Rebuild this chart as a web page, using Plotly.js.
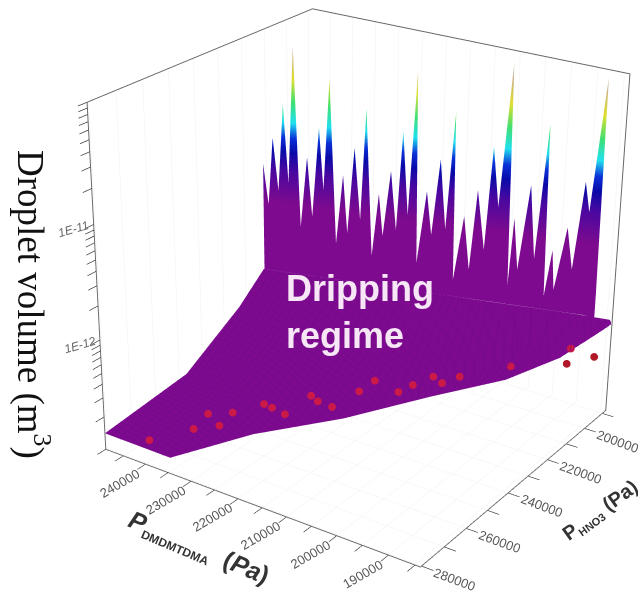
<!DOCTYPE html>
<html><head><meta charset="utf-8">
<script src="https://cdn.plot.ly/plotly-3.0.1.min.js"></script>
<style>html,body{margin:0;padding:0;background:#fff}</style>
</head><body><div id="chart" style="width:638px;height:600px"></div>
<script>
// Ridge of spikes along the dripping-regime limit
const ridgeX=[247694,246746,245855,244851,243904,242957,242019,240705,239486,238548,237282,236456,235387,234093,232845,232020,230781,229656,228708,227461,226279,225510,224150,223090,222086,221017,219713,219244,217649,216702,215342,214216,212912,212565,210905,209780,208654,207238,206178,204996,203335,202801,202097,201206,199490,198364,196769,196357,195231,194706,192867,191742,190269,189378,187427,187146];
const ridgeY=[213897,213503,213128,212715,212312,211918,211514,210970,210454,210051,209535,209188,208738,208194,207669,207322,206806,206337,205933,205417,204920,204592,204029,203579,203157,202707,202163,201966,201290,200896,200333,199855,199311,199161,198467,197998,197519,196929,196478,195981,195287,195062,194771,194396,193674,193205,192539,192360,191891,191666,190897,190428,189809,189434,189190,189190];
const ridgeExp=[-11.16,-11.53,-10.91,-11.39,-10.6,-11.31,-10.08,-11.7,-11.05,-11.59,-10.77,-11.33,-10.33,-11.81,-11.17,-11.7,-10.91,-11.56,-10.55,-11.88,-11.3,-11.68,-11.08,-11.61,-10.71,-11.46,-10.18,-11.89,-11.22,-11.61,-10.92,-11.54,-10.49,-12.0,-11.4,-11.88,-11.15,-11.68,-10.75,-11.28,-10.02,-11.98,-11.36,-11.82,-11.05,-11.7,-10.5,-12.03,-11.6,-11.96,-11.38,-11.75,-10.96,-11.22,-10.05,-11.92];
const ridgeBaseExp=-12.15;
// Main sheet (rows run from the lower edge up to the ridge base)
const sheetX=[
 [249000,236000,229500,219750,211300,203500,194080,184200],
 [249000,236000,228850,217800,208050,199600,191800,184200],
 [248400,236000,227550,215850,204800,195700,189850,184300],
 [247800,236100,227200,215366,203420,194700,190616,184500]];
const sheetY=[
 [280500,277720,255520,235175,211500,191700,188000,188000],
 [246830,254600,238900,223150,205600,191200,188190,188000],
 [224260,229600,220400,211100,200000,190780,188460,188000],
 [213980,209064,205326,200352,195437,191704,190064,188000]];
const sheetExp=[
 [-12.85,-12.92,-12.93,-12.93,-12.93,-12.93,-12.64,-12.19],
 [-12.76,-12.8,-12.82,-12.82,-12.8,-12.7,-12.5,-12.17],
 [-12.4,-12.55,-12.6,-12.6,-12.55,-12.45,-12.3,-12.16],
 [-12.15,-12.15,-12.15,-12.15,-12.15,-12.15,-12.15,-12.15]];
// Measured droplets
const dropX=[238900,233700,235000,230800,231750,229150,227200,223950,224150,222000,218750,218100,218100,212250,211600,210300,207700,206400,200900,191500];
const dropY=[280500,272200,263850,267100,259700,251400,251800,252750,240700,242200,242600,231500,224100,225900,220400,213300,215100,209300,196300,188900];
const dropExp=[-12.76,-12.7,-12.7,-12.7,-12.7,-12.7,-12.7,-12.7,-12.7,-12.7,-12.7,-12.7,-12.7,-12.7,-12.7,-12.7,-12.7,-12.7,-12.7,-12.5];
const lowDropX=[192450,187050];
const lowDropY=[188000,188000];
const lowDropExp=[-12.67,-12.53];
// Axes
const xRange=[184000,249000], yRange=[188000,280500], zRange=[-13,-10];
const xTickVals=[190000,200000,210000,220000,230000,240000];
const yTickVals=[200000,220000,240000,260000,280000];
const xMinorVals=[185000,195000,205000,215000,225000,235000,245000];
const yMinorVals=[190000,210000,230000,250000,270000];
const zMajor=[-13,-12,-11,-10];
const zLabels=[['1E-11',-11],['1E-12',-12]];
const zMinorMult=[2,3,4,5,6,7,8,9];

const pow=a=>a.map(r=>Array.isArray(r)?pow(r):Math.pow(10,r));
const colorscale=[[0,'#7d0a8f'],[0.5,'#7d0a8f'],[0.6,'#4a08a0'],[0.66,'#0a0aa8'],[0.7,'#0a30d8'],[0.75,'#20e0f0'],[0.81,'#40e070'],[0.88,'#e0e030'],[0.95,'#c8b080'],[1,'#c8c8c8']];
const flat={ambient:1,diffuse:0,specular:0,roughness:1,fresnel:0};
const ridgeBase=ridgeExp.map(()=>ridgeBaseExp);
const sheet={type:'surface',x:sheetX,y:sheetY,z:pow(sheetExp),surfacecolor:sheetExp,cmin:-13,cmax:-10,cauto:false,
  colorscale,showscale:false,lighting:flat,hoverinfo:'skip',
  contours:{x:{show:true,start:184000,end:249000,size:1300,color:'#720a88',width:1,highlight:false},
            y:{show:true,start:188000,end:280500,size:1800,color:'#720a88',width:1,highlight:false},
            z:{highlight:false}}};
const ridge={type:'surface',x:[ridgeX,ridgeX],y:[ridgeY,ridgeY],z:[pow(ridgeBase),pow(ridgeExp)],surfacecolor:[ridgeBase,ridgeExp],
  cmin:-13,cmax:-10,cauto:false,colorscale,showscale:false,lighting:flat,hoverinfo:'skip',
  contours:{x:{highlight:false},y:{highlight:false},z:{highlight:false}}};
const drops={type:'scatter3d',mode:'markers',x:dropX,y:dropY,z:pow(dropExp),marker:{size:4.5,color:'#cc1a48',line:{width:0}},hoverinfo:'skip'};
const lowDrops={type:'scatter3d',mode:'markers',x:lowDropX,y:lowDropY,z:pow(lowDropExp),marker:{size:4.5,color:'#b01828',line:{width:0}},hoverinfo:'skip'};

const zTicks=[];
zMajor.forEach(e=>{zTicks.push(Math.pow(10,e)); if(e<-10) zMinorMult.forEach(m=>zTicks.push(m*Math.pow(10,e)));});
const axisBase={showbackground:false,showline:true,mirror:true,linecolor:'#666',linewidth:2,gridcolor:'#f1f1f1',gridwidth:1,
  showticklabels:false,ticks:'outside',ticklen:4,tickcolor:'#333',tickwidth:1.5,zeroline:false,showspikes:false,title:{text:''}};
const labFont={family:'Liberation Sans, Arial, sans-serif',size:13,color:'#555'};
const ann3d=[];
xTickVals.forEach(v=>ann3d.push({x:v,y:yRange[1],z:zRange[0],text:String(v),showarrow:false,textangle:-30,font:labFont,xshift:-26,yshift:-19}));
yTickVals.forEach(v=>ann3d.push({x:xRange[0],y:v,z:zRange[0],text:String(v),showarrow:false,textangle:20,font:labFont,xshift:33,yshift:-13}));
zLabels.forEach(l=>ann3d.push({x:xRange[1],y:yRange[1],z:l[1],text:'<i>'+l[0]+'</i>',showarrow:false,textangle:-16,
  font:{family:'Liberation Sans, Arial, sans-serif',size:12,color:'#666'},xshift:-20,yshift:-5}));

const px=(x,y)=>({xref:'paper',yref:'paper',x:x/638,y:1-y/600,xanchor:'center',yanchor:'middle',showarrow:false});
const layout={width:638,height:600,margin:{l:0,r:0,t:0,b:0},paper_bgcolor:'#fff',showlegend:false,
 scene:{domain:{x:[0,1],y:[0,1]},
  camera:{eye:{x:-2.577,y:3.875,z:2.10},center:{x:0.093,y:0.065,z:-0.10},up:{x:0,y:0,z:1}},
  aspectmode:'manual',aspectratio:{x:1,y:0.967,z:0.985},
  xaxis:Object.assign({},axisBase,{range:xRange,tickmode:'array',tickvals:xTickVals.concat(xMinorVals)}),
  yaxis:Object.assign({},axisBase,{range:yRange,tickmode:'array',tickvals:yTickVals.concat(yMinorVals)}),
  zaxis:Object.assign({},axisBase,{type:'log',range:zRange,tickmode:'array',tickvals:zTicks,showgrid:false,ticklen:3}),
  annotations:ann3d},
 annotations:[
  Object.assign(px(33,304),{text:'Droplet volume (m<sup>3</sup>)',textangle:90,font:{family:'Liberation Serif, serif',size:37,color:'#111'}}),
  Object.assign(px(360,312),{text:'Dripping<br>regime',align:'left',font:{family:'Liberation Sans, Arial, sans-serif',size:36,color:'#f6e6f6',weight:'bold'}}),
  Object.assign(px(199,548),{text:'<b><i>P</i></b><sub><span style="font-size:12px"><b>DMDMTDMA</b></span></sub><b>&nbsp;&nbsp;(<i>Pa</i>)</b>',textangle:23,font:{family:'Liberation Sans, Arial, sans-serif',size:25,color:'#333'}}),
  Object.assign(px(600,511),{text:'<b>P</b><sub><span style="font-size:11px"><b>HNO3</b></span></sub><b> (Pa)</b>',textangle:-36,font:{family:'Liberation Sans, Arial, sans-serif',size:20,color:'#333'}})
 ]};
Plotly.newPlot('chart',[sheet,ridge,drops,lowDrops],layout,{displayModeBar:false}).then(gd=>{
  // narrower field of view, so that the box keeps the reference's mild perspective
  const gl=gd._fullLayout.scene._scene.glplot;
  gl.fovy=0.307; gl.redraw&&gl.redraw();
});
</script></body></html>
